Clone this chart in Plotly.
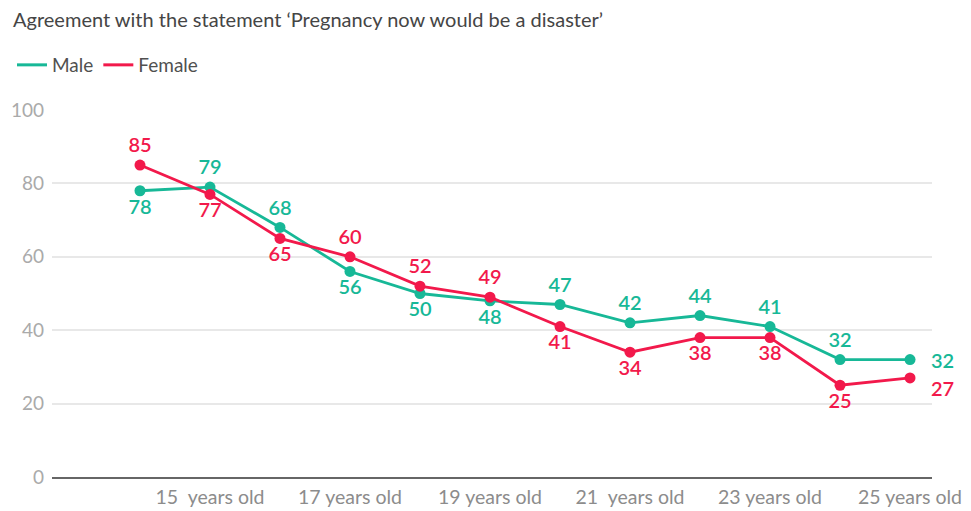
import plotly.graph_objects as go

# Age in years and share agreeing (%) for each group
ages = [14, 15, 16, 17, 18, 19, 20, 21, 22, 23, 24, 25]
male = [78, 79, 68, 56, 50, 48, 47, 42, 44, 41, 32, 32]
female = [85, 77, 65, 60, 52, 49, 41, 34, 38, 38, 25, 27]

tick_ages = [15, 17, 19, 21, 23, 25]
tick_labels = ["15  years old", "17 years old", "19 years old",
               "21  years old", "23 years old", "25 years old"]

# label placement per point (the final point gets a label to its right)
male_pos = ["bottom center", "top center", "top center", "bottom center",
            "bottom center", "bottom center", "top center", "top center",
            "top center", "top center", "top center", None]
female_pos = ["top center", "bottom center", "bottom center", "top center",
              "top center", "top center", "bottom center", "bottom center",
              "bottom center", "bottom center", "bottom center", None]

MALE_C = "#17b897"
FEMALE_C = "#f2194b"
FONT = "Lato, 'Open Sans', sans-serif"
LABEL_SIZE = 20
W, H = 971, 511

fig = go.Figure()
series = [("Male", male, MALE_C, male_pos, 0),
          ("Female", female, FEMALE_C, female_pos, 10)]

for name, vals, color, pos, end_dy in series:
    texts = [str(v) if p else "" for v, p in zip(vals, pos)]
    fig.add_trace(go.Scatter(
        x=ages, y=vals, name=name, mode="lines+markers+text",
        line=dict(color=color, width=2.8),
        marker=dict(color=color, size=11),
        text=texts, textposition=[p or "middle right" for p in pos],
        textfont=dict(color=color, size=LABEL_SIZE, family=FONT, weight=600),
        cliponaxis=False, showlegend=False, hoverinfo="x+y+name",
    ))
    # value label to the right of the last point
    fig.add_annotation(
        x=ages[-1], y=vals[-1], text=str(vals[-1]), showarrow=False,
        xanchor="left", yanchor="middle", xshift=19, yshift=-end_dy,
        font=dict(color=color, size=LABEL_SIZE, family=FONT, weight=600),
    )

# legend entries drawn as plain lines
for name, vals, color, pos, end_dy in series:
    fig.add_trace(go.Scatter(
        x=[None], y=[None], name=name, mode="lines",
        line=dict(color=color, width=3), showlegend=True, hoverinfo="skip",
    ))

fig.update_layout(
    width=W, height=H,
    margin=dict(l=52, r=39, t=110, b=34, autoexpand=False),
    paper_bgcolor="white", plot_bgcolor="white",
    font=dict(family=FONT, color="#444"),
    title=dict(text="Agreement with the statement \u2018Pregnancy now would be a disaster\u2019",
               x=13 / W, xref="container", xanchor="left",
               y=1 - 20 / H, yref="container", yanchor="middle",
               font=dict(size=20, color="#454545", family=FONT)),
    legend=dict(orientation="h", x=12 / W, xref="container", xanchor="left",
                y=1 - 65 / H, yref="container", yanchor="middle",
                font=dict(size=19, color="#505050", family=FONT),
                itemwidth=30, traceorder="normal", bgcolor="rgba(0,0,0,0)"),
    showlegend=True,
)

fig.update_xaxes(
    range=[12.743, 25.314], tickmode="array", tickvals=tick_ages, ticktext=tick_labels,
    showgrid=False, zeroline=False, showline=True, linecolor="#666", linewidth=2,
    ticks="", tickfont=dict(size=19.5, color="#8c8c8c", family=FONT),
    ticklabelstandoff=2, automargin=False,
)
fig.update_yaxes(
    range=[0, 100], tickvals=[0, 20, 40, 60, 80, 100],
    showgrid=True, gridcolor="#e8e8e8", gridwidth=1.5, zeroline=False,
    showline=False, ticks="", tickfont=dict(size=19, color="#aaaaaa", family=FONT),
    ticklabelstandoff=7, automargin=False,
)

fig.write_html("out.html")
